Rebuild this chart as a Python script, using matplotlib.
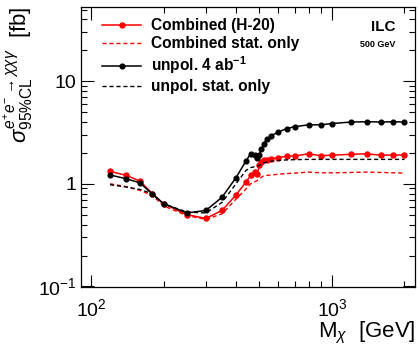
import matplotlib
matplotlib.use("Agg")
import matplotlib.pyplot as plt
from matplotlib.ticker import FixedLocator, FixedFormatter, LogLocator, NullFormatter

plt.rcParams['font.family'] = ['Liberation Sans', 'DejaVu Sans']
plt.rcParams['mathtext.fontset'] = 'custom'
plt.rcParams['mathtext.rm'] = 'Liberation Sans'
plt.rcParams['mathtext.it'] = 'Liberation Sans:italic'
plt.rcParams['mathtext.bf'] = 'Liberation Sans:bold'

# mass points [GeV]
mass = [120, 140, 160, 180, 200, 250, 300, 350, 400, 440, 460, 480, 490, 500,
        510, 520, 540, 560, 600, 650, 700, 800, 900, 1000, 1200, 1400, 1600, 1800, 2000]

# 95% CL cross-section limits [fb]
combined = [1.32, 1.21, 1.06, 0.80, 0.64, 0.50, 0.46, 0.55, 0.78, 1.04, 1.21, 1.30, 1.25, 1.51,
            1.63, 1.69, 1.72, 1.76, 1.80, 1.86, 1.87, 1.96, 1.88, 1.90, 1.94, 1.96, 1.90, 1.91, 1.91]
combined_stat = [1.00, 0.94, 0.86, 0.77, 0.61, 0.49, 0.45, 0.51, 0.71, 0.89, 1.00, 1.05, 1.08, 1.12,
                 1.16, 1.19, 1.21, 1.22, 1.24, 1.26, 1.27, 1.30, 1.28, 1.28, 1.29, 1.30, 1.29, 1.28, 1.27]
unpol = [1.22, 1.12, 1.02, 0.79, 0.64, 0.52, 0.55, 0.74, 1.15, 1.67, 1.97, 1.90, 1.79, 1.92,
         2.17, 2.47, 2.72, 2.94, 3.21, 3.46, 3.60, 3.76, 3.76, 3.87, 4.00, 4.03, 4.00, 4.03, 4.00]
unpol_stat = [0.98, 0.93, 0.88, 0.80, 0.64, 0.53, 0.52, 0.66, 1.00, 1.35, 1.44, 1.47, 1.49, 1.51,
              1.56, 1.60, 1.64, 1.66, 1.69, 1.71, 1.72, 1.73, 1.73, 1.73, 1.73, 1.73, 1.73, 1.73, 1.73]

fig = plt.figure(figsize=(4.18, 3.46), dpi=100)
ax = fig.add_axes([0.194, 0.171, 0.799, 0.809])

ax.plot(mass, combined, color='red', lw=1.1, marker='o', ms=3.6, label='Combined (H-20)')
ax.plot(mass, combined_stat, color='red', lw=1.0, ls=(0, (3, 2)), label='Combined stat. only')
ax.plot(mass, unpol, color='black', lw=1.1, marker='o', ms=3.4, label='unpol. 4 ab$^{\\mathbf{-1}}$')
ax.plot(mass, unpol_stat, color='black', lw=1.0, ls=(0, (3, 2)), label='unpol. stat. only')

ax.set_xscale('log')
ax.set_yscale('log')
ax.set_xlim(91, 2213)
ax.set_ylim(0.099, 53)

ax.yaxis.set_major_locator(FixedLocator([0.1, 1, 10]))
ax.yaxis.set_major_formatter(FixedFormatter(['$10^{-1}$', '1', '10']))
ax.yaxis.set_minor_locator(LogLocator(base=10, subs=range(2, 10)))
ax.yaxis.set_minor_formatter(NullFormatter())
ax.xaxis.set_major_locator(FixedLocator([100, 1000]))
ax.xaxis.set_major_formatter(FixedFormatter(['$10^{2}$', '$10^{3}$']))
ax.xaxis.set_minor_locator(LogLocator(base=10, subs=range(2, 10)))
ax.xaxis.set_minor_formatter(NullFormatter())

ax.tick_params(which='both', direction='in', top=True, right=True, labelsize=14, width=0.8)
ax.tick_params(which='major', length=9)
ax.tick_params(which='minor', length=4.5)
ax.tick_params(axis='x', pad=8)
for s in ax.spines.values():
    s.set_linewidth(0.9)

ax.set_xlabel(r'M$_{\chi}$  [GeV]', fontsize=16, loc='right', labelpad=0)
ax.set_ylabel(r'$\sigma^{e^{+}e^{-}\rightarrow\chi\chi\gamma}_{95\%\mathrm{CL}}$  [fb]',
              fontsize=16, loc='top', labelpad=2)

ax.legend(loc='upper left', bbox_to_anchor=(0.045, 0.982), frameon=False,
          prop={'weight': 'bold', 'size': 11.2}, handlelength=2.5, handletextpad=0.65,
          labelspacing=0.2, borderaxespad=0.0)

ax.text(0.94, 0.93, 'ILC', transform=ax.transAxes, ha='right', va='center',
        fontsize=11, fontweight='bold')
ax.text(0.94, 0.865, '500 GeV', transform=ax.transAxes, ha='right', va='center',
        fontsize=6.5, fontweight='bold')

fig.savefig('out.png', dpi=100)
